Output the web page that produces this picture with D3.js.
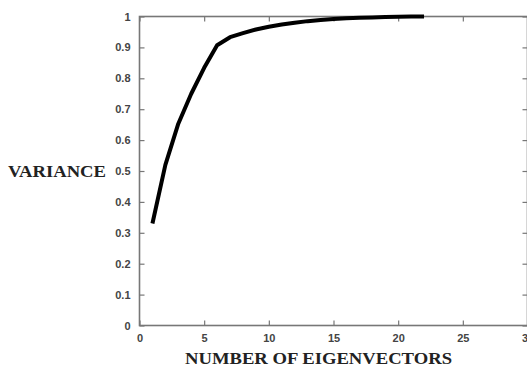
<!DOCTYPE html>
<html>
<head>
<meta charset="utf-8">
<script src="https://cdn.jsdelivr.net/npm/d3@7"></script>
<style>
body { margin: 0; background: #fff; }
</style>
</head>
<body>
<div id="chart"></div>
<script>
// number of eigenvectors vs. cumulative variance
var nEig = [1, 2, 3, 4, 5, 6, 7, 8, 9, 10, 11, 12, 13, 14, 15, 16, 17, 18, 19, 20, 21, 22];
var variance = [0.33, 0.52, 0.653, 0.75, 0.834, 0.907, 0.933, 0.946, 0.958, 0.967, 0.974, 0.98,
	0.985, 0.989, 0.992, 0.994, 0.996, 0.997, 0.998, 0.999, 1.0, 1.0];
var xTicks = [0, 5, 10, 15, 20, 25, 30];
var yTicks = [0, 0.1, 0.2, 0.3, 0.4, 0.5, 0.6, 0.7, 0.8, 0.9, 1];

var width = 527;
var height = 371;

var svg = d3.select("#chart").append("svg")
	.attr("width", width)
	.attr("height", height);

var x = d3.scaleLinear().domain([0, 30]).range([139.5, 527.5]);
var y = d3.scaleLinear().domain([0, 1]).range([325.5, 16.5]);

var axisColor = "#777";

//box round the plot
svg.append("rect")
	.attr("x", x(0))
	.attr("y", y(1))
	.attr("width", x(30) - x(0))
	.attr("height", y(0) - y(1))
	.attr("fill", "none")
	.attr("stroke", axisColor)
	.attr("stroke-width", 1.6);

//bottom and left axes, ticks inward
function styleAxis(g){
	g.select(".domain").remove();
	g.selectAll(".tick line").attr("stroke", axisColor).attr("stroke-width", 1.2);
	g.selectAll(".tick text")
		.attr("fill", "#444")
		.attr("font-family", "Liberation Sans, Arial, sans-serif")
		.attr("font-weight", "bold")
		.attr("font-size", 11);
}

svg.append("g")
	.attr("transform", "translate(0," + y(0) + ")")
	.call(d3.axisBottom(x).tickValues(xTicks).tickSize(-5).tickPadding(9)
		.tickFormat(function(d){ return d; }))
	.call(styleAxis);

svg.append("g")
	.attr("transform", "translate(" + x(0) + ",0)")
	.call(d3.axisLeft(y).tickValues(yTicks).tickSize(-5).tickPadding(9)
		.tickFormat(function(d){ return d; }))
	.call(styleAxis);

//top and right ticks (no labels)
svg.append("g")
	.attr("transform", "translate(0," + y(1) + ")")
	.call(d3.axisTop(x).tickValues(xTicks).tickSize(-5).tickFormat(""))
	.call(styleAxis);

svg.append("g")
	.attr("transform", "translate(" + x(30) + ",0)")
	.call(d3.axisRight(y).tickValues(yTicks).tickSize(-5).tickFormat(""))
	.call(styleAxis);

//the curve
var line = d3.line()
	.x(function(d, i){ return x(nEig[i]); })
	.y(function(d){ return y(d); });

svg.append("path")
	.datum(variance)
	.attr("d", line)
	.attr("fill", "none")
	.attr("stroke", "#000")
	.attr("stroke-width", 4)
	.attr("stroke-linejoin", "round");

//axis titles
svg.append("text")
	.attr("x", 8)
	.attr("y", 177)
	.attr("textLength", 98)
	.attr("lengthAdjust", "spacingAndGlyphs")
	.attr("font-family", "Liberation Serif, Times New Roman, serif")
	.attr("font-weight", "bold")
	.attr("font-size", 17)
	.attr("fill", "#222")
	.text("VARIANCE");

svg.append("text")
	.attr("x", 185)
	.attr("y", 364)
	.attr("textLength", 267)
	.attr("lengthAdjust", "spacingAndGlyphs")
	.attr("font-family", "Liberation Serif, Times New Roman, serif")
	.attr("font-weight", "bold")
	.attr("font-size", 17)
	.attr("fill", "#222")
	.text("NUMBER OF EIGENVECTORS");
</script>
</body>
</html>
